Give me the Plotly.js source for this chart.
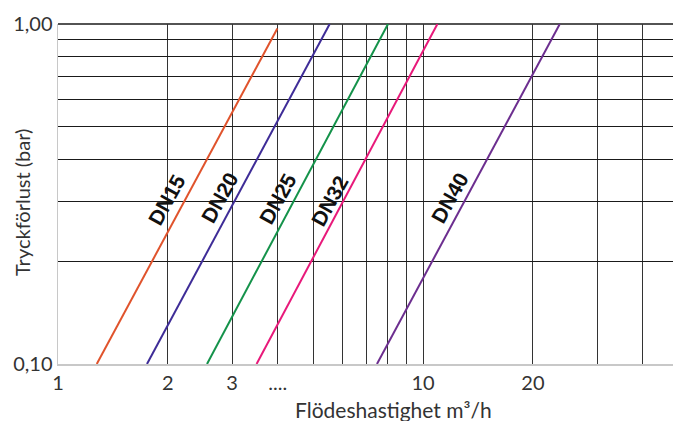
<!DOCTYPE html>
<html>
<head>
<meta charset="utf-8">
<script src="https://cdn.plot.ly/plotly-3.0.1.min.js"></script>
<style>html,body{margin:0;padding:0;background:#fff;}#chart{width:673px;height:421px;}</style>
</head>
<body>
<div id="chart"></div>
<script>
// ---- data ----
const seriesNames = ['DN15', 'DN20', 'DN25', 'DN32', 'DN40'];
const flowStart = [1.277, 1.753, 2.56, 3.50, 7.48];   // m³/h at lower end of each line
const flowEnd   = [3.99, 5.55, 8.02, 10.95, 23.7];    // m³/h at upper end
const lossStart = [0.10, 0.10, 0.10, 0.10, 0.10];     // bar
const lossEnd   = [0.97, 1.00, 1.00, 1.00, 1.00];     // bar
const xTickVals = [1, 2, 3, 4, 5, 6, 7, 8, 9, 10, 20, 30, 40];
const xTickText = ['1', '2', '3', '....', '', '', '', '', '', '10', '20', '', ''];
const yTickVals = [0.1, 0.2, 0.3, 0.4, 0.5, 0.6, 0.7, 0.8, 0.9, 1.0];
const yTickText = ['0,10', '', '', '', '', '', '', '', '', '1,00'];

// ---- styles ----
const colors = ['#E0532C', '#3E2C97', '#14924A', '#E8197A', '#6C2E8F'];
const labelPos = [[0.2986, -0.517], [0.4438, -0.511], [0.6027, -0.514], [0.7452, -0.520], [1.074, -0.511]];

const traces = seriesNames.map((n, i) => ({
  x: [flowStart[i], flowEnd[i]],
  y: [lossStart[i], lossEnd[i]],
  mode: 'lines',
  name: n,
  line: {color: colors[i], width: 2},
  hoverinfo: 'x+y+name'
}));

const tickFont = {family: 'Lato, "Open Sans", sans-serif', size: 20, color: '#333'};

const annotations = seriesNames.map((n, i) => ({
  x: labelPos[i][0], y: labelPos[i][1], xref: 'x', yref: 'y',
  text: '<b>' + n + '</b>', showarrow: false, textangle: -61,
  font: {family: '"Liberation Sans", Arial, sans-serif', size: 21, color: '#111'}
}));
annotations.push({
  text: 'Flödeshastighet m³/h', xref: 'paper', yref: 'paper',
  x: (393 - 58) / 615, y: -(409 - 364) / 340, showarrow: false,
  font: {family: tickFont.family, size: 21, color: '#333'}, xanchor: 'center', yanchor: 'middle'
});
annotations.push({
  text: 'Tryckförlust (bar)', xref: 'paper', yref: 'paper',
  x: -(58 - 22) / 615, y: (364 - 203) / 340, showarrow: false, textangle: -90,
  font: {family: tickFont.family, size: 20, color: '#333'}, xanchor: 'center', yanchor: 'middle'
});

const layout = {
  width: 673, height: 421,
  margin: {l: 58, r: 0, t: 24, b: 57, pad: 0},
  paper_bgcolor: '#fff', plot_bgcolor: '#fff',
  showlegend: false,
  font: tickFont,
  xaxis: {
    type: 'log', range: [0, 615 / 365],
    tickmode: 'array', tickvals: xTickVals, ticktext: xTickText,
    showgrid: true, gridcolor: '#333', gridwidth: 1,
    showline: true, linecolor: '#c8c8c8', linewidth: 1.5,
    ticks: '', zeroline: false, fixedrange: true,
    tickfont: tickFont
  },
  yaxis: {
    type: 'log', range: [-1, 0],
    tickmode: 'array', tickvals: yTickVals, ticktext: yTickText,
    showgrid: true, gridcolor: '#1a1a1a', gridwidth: 1,
    showline: true, linecolor: '#c8c8c8', linewidth: 1.5,
    ticks: '', zeroline: false, fixedrange: true,
    tickfont: tickFont
  },
  shapes: [{
    type: 'line', xref: 'paper', yref: 'paper', x0: 0, x1: 1, y0: 1, y1: 1,
    line: {color: '#1a1a1a', width: 1.5}, layer: 'below'
  }],
  annotations: annotations
};

Plotly.newPlot('chart', traces, layout, {displayModeBar: false, staticPlot: true});
</script>
</body>
</html>
